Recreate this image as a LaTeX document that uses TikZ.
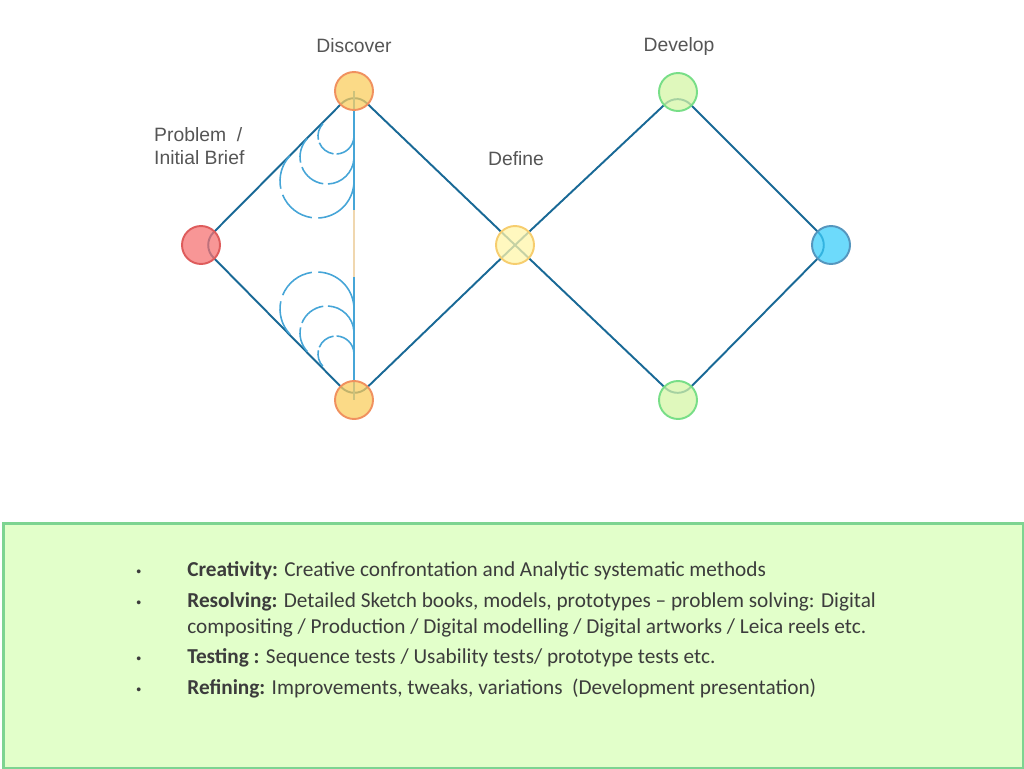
\documentclass[tikz,border=0pt]{standalone}
\usepackage{fontspec}
\setmainfont{Liberation Sans}
\newfontfamily\bodyfont[Ligatures=TeX]{Carlito}
\usetikzlibrary{positioning,backgrounds}

\definecolor{linecol}{RGB}{25,105,150}
\definecolor{vertcol}{RGB}{70,165,215}
\definecolor{beigecol}{RGB}{240,215,175}
\definecolor{labelcol}{RGB}{85,85,85}
\definecolor{textcol}{RGB}{60,60,60}
\definecolor{panelfill}{RGB}{226,255,202}
\definecolor{paneldraw}{RGB}{125,212,145}

\tikzset{
 stage/.style={circle, minimum size=0.76cm, inner sep=0pt, line width=1.1pt, fill opacity=0.75},
 redstage/.style={stage, draw={rgb,255:red,222;green,92;blue,92}, fill={rgb,255:red,245;green,115;blue,115}},
 orangestage/.style={stage, draw={rgb,255:red,240;green,145;blue,95}, fill={rgb,255:red,250;green,205;blue,95}},
 yellowstage/.style={stage, draw={rgb,255:red,246;green,205;blue,110}, fill={rgb,255:red,255;green,245;blue,170}},
 greenstage/.style={stage, draw={rgb,255:red,120;green,222;blue,135}, fill={rgb,255:red,212;green,245;blue,165}},
 bluestage/.style={stage, draw={rgb,255:red,85;green,150;blue,190}, fill={rgb,255:red,60;green,205;blue,250}},
 steplabel/.style={text=labelcol, font=\fontsize{11}{13}\selectfont},
 ringarc/.style={vertcol, line width=0.9pt},
 bulletline/.style={anchor=base west, text=textcol, font=\bodyfont\fontsize{12.1}{15}\selectfont, inner sep=0pt},
 bulletdot/.style={anchor=base west, text=textcol, font=\fontsize{8}{10}\selectfont, inner sep=0pt}
}

\begin{document}
\begin{tikzpicture}[x=0.02cm, y=-0.02cm]
 \useasboundingbox (0,0) rectangle (1024,768);
 % stages
 \node[redstage] (prob) at (201,245) {};
 \node[orangestage] (disc) at (354,91) {};
 \node[orangestage] (discb) at (354,400) {};
 \node[yellowstage] (def) at (515,245) {};
 \node[greenstage] (devt) at (678,92) {};
 \node[greenstage] (devb) at (678,400) {};
 \node[bluestage] (deliv) at (831,245) {};
%
 \node[steplabel] (discl) at (354,46) {Discover};
 \node[steplabel] (devl) at (679,46) {Develop};
 \node[steplabel] (defl) at (516,159) {Define};
 \node[steplabel, align=left, anchor=west] (probl) at (148,146) {Problem\ \ /\\Initial Brief};
%
 \begin{scope}[on background layer]
  \draw[linecol, line width=1.1pt, rounded corners=0.35cm]
   (prob.center) -- (disc.center) -- (def.center) -- (devb.center) -- (deliv.center)
   -- (devt.center) -- (def.center) -- (discb.center) -- cycle;
  \coordinate (vtop) at (354,210);
  \coordinate (vbot) at (354,277);
  \draw[vertcol, line width=0.7pt] (disc.center) -- (vtop);
  \draw[beigecol, line width=0.7pt] (vtop) -- (vbot);
  \draw[vertcol, line width=0.7pt] (vbot) -- (discb.center);
  % broken rings, upper fan
  \foreach \cx/\cy/\r in {317/181/37, 327/157/27, 336/136/18}{
   \foreach \a/\b in {223/168, 158/98, 88/3}
    \draw[ringarc] ([shift={(\a:\r)}]\cx,\cy) arc[start angle=\a, end angle=\b, radius=\r];
  }
  % broken rings, lower fan
  \foreach \cx/\cy/\r in {317/309/37, 327/333/27, 336/354/18}{
   \foreach \a/\b in {137/192, 202/262, 272/357}
    \draw[ringarc] ([shift={(\a:\r)}]\cx,\cy) arc[start angle=\a, end angle=\b, radius=\r];
  }
 \end{scope}
%
 % text panel
 \node[draw=paneldraw, fill=panelfill, line width=1.7pt, minimum width=20.4cm, minimum height=4.9cm, anchor=north west, inner sep=0pt] (panel) at (2,522) {};
 \node[bulletdot] (b1) at (136,576) {\textbullet};
 \node[bulletline] (t1) at (187,576) {\textbf{Creativity:} Creative confrontation and Analytic systematic methods};
 \node[bulletdot] (b2) at (136,607) {\textbullet};
 \node[bulletline] (t2) at (187,607) {\textbf{Resolving:} Detailed Sketch books, models, prototypes \textendash{} problem solving: Digital};
 \node[bulletline] (t2b) at (187,633) {compositing / Production / Digital modelling / Digital artworks / Leica reels etc.};
 \node[bulletdot] (b3) at (136,663) {\textbullet};
 \node[bulletline] (t3) at (187,663) {\textbf{Testing :} Sequence tests / Usability tests/ prototype tests etc.};
 \node[bulletdot] (b4) at (136,694) {\textbullet};
 \node[bulletline] (t4) at (187,694) {\textbf{Refining:} Improvements, tweaks, variations\ \ (Development presentation)};
\end{tikzpicture}
\end{document}
